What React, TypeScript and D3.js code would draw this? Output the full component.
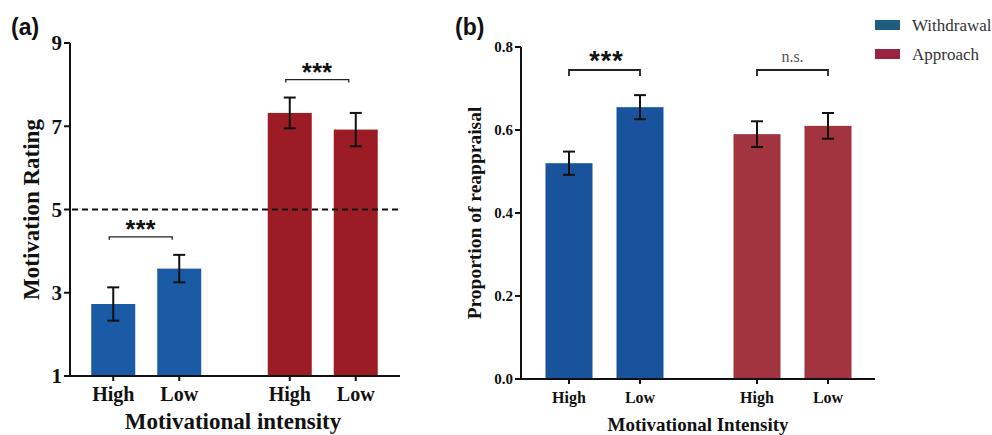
import React from "react";
import * as d3 from "d3";

const groups = ["Withdrawal", "Approach"];
const conditions = ["High", "Low"];

const ratingMeans = [[2.73, 3.58], [7.32, 6.92]];
const ratingErrors = [[0.4, 0.33], [0.37, 0.4]];
const ratingTicks = [1, 3, 5, 7, 9];
const ratingReference = 5;

const reappMeans = [[0.52, 0.655], [0.59, 0.61]];
const reappErrors = [[0.028, 0.029], [0.031, 0.031]];
const reappTicks = [0, 0.2, 0.4, 0.6, 0.8];

const sigA = ["***", "***"];
const sigB = ["***", "n.s."];

const SERIF = "'Liberation Serif', 'Times New Roman', serif";
const SANS = "'Liberation Sans', Arial, sans-serif";

export default function App() {
  // ---------- Panel A ----------
  const yA = d3.scaleLinear().domain([1, 9]).range([376, 43]);
  const gA = d3.scaleBand<string>().domain(groups).range([58, 411]);
  const iA = d3.scalePoint<string>().domain(conditions).range([-33, 33]);
  const bwA = 44;
  const colA = ["#1b5ba6", "#9c1c26"];

  // ---------- Panel B ----------
  const yB = d3.scaleLinear().domain([0, 0.8]).range([379, 47]);
  const gB = d3.scaleBand<string>().domain(groups).range([510.5, 886.5]);
  const iB = d3.scalePoint<string>().domain(conditions).range([-35.5, 35.5]);
  const bwB = 47;
  const colB = ["#19539c", "#a2343f"];

  const cxA = (g: string, c: string) => (gA(g) as number) + gA.bandwidth() / 2 + (iA(c) as number);
  const cxB = (g: string, c: string) => (gB(g) as number) + gB.bandwidth() / 2 + (iB(c) as number);

  return (
    <svg width={992} height={435} style={{ display: "block", position: "absolute", left: 0, top: 0, background: "#fff" }}>
      {/* Panel labels */}
      <text x={11} y={35} fontFamily={SANS} fontWeight="bold" fontSize={23} fill="#111">(a)</text>
      <text x={455} y={35} fontFamily={SANS} fontWeight="bold" fontSize={23} fill="#111">(b)</text>

      {/* ===== Panel A ===== */}
      {groups.map((g, gi) =>
        conditions.map((c, ci) => {
          const cx = cxA(g, c);
          const v = ratingMeans[gi][ci];
          const e = ratingErrors[gi][ci];
          return (
            <g key={`a-${g}-${c}`}>
              <rect x={cx - bwA / 2} y={yA(v)} width={bwA} height={yA(1) - yA(v)} fill={colA[gi]} />
              <line x1={cx} x2={cx} y1={yA(v + e)} y2={yA(v - e)} stroke="#111" strokeWidth={2} />
              <line x1={cx - 6} x2={cx + 6} y1={yA(v + e)} y2={yA(v + e)} stroke="#111" strokeWidth={2} />
              <line x1={cx - 6} x2={cx + 6} y1={yA(v - e)} y2={yA(v - e)} stroke="#111" strokeWidth={2} />
            </g>
          );
        })
      )}
      {/* dashed reference */}
      <line x1={72} x2={400} y1={yA(ratingReference)} y2={yA(ratingReference)} stroke="#111" strokeWidth={2} strokeDasharray="6,4" />
      {/* axes */}
      <line x1={70} x2={70} y1={yA(9)} y2={yA(1)} stroke="#111" strokeWidth={2} />
      <line x1={64} x2={400} y1={yA(1)} y2={yA(1)} stroke="#111" strokeWidth={2} />
      {ratingTicks.map((t) => (
        <g key={`ta-${t}`}>
          <line x1={64} x2={70} y1={yA(t)} y2={yA(t)} stroke="#111" strokeWidth={2} />
          <text x={62} y={yA(t)} dy="0.35em" textAnchor="end" fontFamily={SERIF} fontWeight="bold" fontSize={21} fill="#111">{t}</text>
        </g>
      ))}
      {groups.map((g) =>
        conditions.map((c) => {
          const cx = cxA(g, c);
          return (
            <g key={`xa-${g}-${c}`}>
              <line x1={cx} x2={cx} y1={yA(1)} y2={yA(1) + 5} stroke="#111" strokeWidth={2} />
              <text x={cx} y={401} textAnchor="middle" fontFamily={SERIF} fontWeight="bold" fontSize={20} fill="#111">{c}</text>
            </g>
          );
        })
      )}
      <text x={233} y={429} textAnchor="middle" fontFamily={SERIF} fontWeight="bold" fontSize={23} fill="#111">Motivational intensity</text>
      <text transform={`translate(39,${(yA(9) + yA(1)) / 2}) rotate(-90)`} textAnchor="middle" fontFamily={SERIF} fontWeight="bold" fontSize={23} fill="#111">Motivation Rating</text>
      {/* significance A */}
      {groups.map((g, gi) => {
        const x1 = cxA(g, "High") - 4;
        const x2 = cxA(g, "Low") - 7;
        const top = Math.max(ratingMeans[gi][0] + ratingErrors[gi][0], ratingMeans[gi][1] + ratingErrors[gi][1]);
        const ly = yA(top) - 18;
        return (
          <g key={`sa-${g}`}>
            <path d={`M${x1},${ly + 3}V${ly}H${x2}V${ly + 3}`} fill="none" stroke="#222" strokeWidth={1.3} />
            <text x={(x1 + x2) / 2} y={ly + 1} textAnchor="middle" fontFamily={SANS} fontWeight="bold" fontSize={25} letterSpacing={0.5} fill="#111">{sigA[gi]}</text>
          </g>
        );
      })}

      {/* ===== Panel B ===== */}
      {groups.map((g, gi) =>
        conditions.map((c, ci) => {
          const cx = cxB(g, c);
          const v = reappMeans[gi][ci];
          const e = reappErrors[gi][ci];
          return (
            <g key={`b-${g}-${c}`}>
              <rect x={cx - bwB / 2} y={yB(v)} width={bwB} height={yB(0) - yB(v)} fill={colB[gi]} />
              <line x1={cx} x2={cx} y1={yB(v + e)} y2={yB(v - e)} stroke="#111" strokeWidth={2} />
              <line x1={cx - 6} x2={cx + 6} y1={yB(v + e)} y2={yB(v + e)} stroke="#111" strokeWidth={2} />
              <line x1={cx - 6} x2={cx + 6} y1={yB(v - e)} y2={yB(v - e)} stroke="#111" strokeWidth={2} />
            </g>
          );
        })
      )}
      <line x1={521} x2={521} y1={yB(0.8)} y2={yB(0)} stroke="#111" strokeWidth={2} />
      <line x1={515} x2={875} y1={yB(0)} y2={yB(0)} stroke="#111" strokeWidth={2} />
      {reappTicks.map((t) => (
        <g key={`tb-${t}`}>
          <line x1={515} x2={521} y1={yB(t)} y2={yB(t)} stroke="#111" strokeWidth={2} />
          <text x={513} y={yB(t)} dy="0.35em" textAnchor="end" fontFamily={SERIF} fontWeight="bold" fontSize={15} fill="#111">{t.toFixed(1)}</text>
        </g>
      ))}
      {groups.map((g) =>
        conditions.map((c) => {
          const cx = cxB(g, c);
          return (
            <g key={`xb-${g}-${c}`}>
              <line x1={cx} x2={cx} y1={yB(0)} y2={yB(0) + 5} stroke="#111" strokeWidth={2} />
              <text x={cx} y={403} textAnchor="middle" fontFamily={SERIF} fontWeight="bold" fontSize={16} fill="#111">{c}</text>
            </g>
          );
        })
      )}
      <text x={698} y={431} textAnchor="middle" fontFamily={SERIF} fontWeight="bold" fontSize={19} fill="#111">Motivational Intensity</text>
      <text transform={`translate(481,${(yB(0.8) + yB(0)) / 2}) rotate(-90)`} textAnchor="middle" fontFamily={SERIF} fontWeight="bold" fontSize={19.5} fill="#111">Proportion of reappraisal</text>
      {/* significance B */}
      {groups.map((g, gi) => {
        const x1 = cxB(g, "High");
        const x2 = cxB(g, "Low");
        const ly = yB(0.8) + 23;
        return (
          <g key={`sb-${g}`}>
            <path d={`M${x1},${ly + 6}V${ly}H${x2}V${ly + 6}`} fill="none" stroke="#222" strokeWidth={1.8} />
            {sigB[gi] === "***" ? (
              <text x={(x1 + x2) / 2 + 2} y={ly} textAnchor="middle" fontFamily={SANS} fontWeight="bold" fontSize={27} letterSpacing={1} fill="#111">{sigB[gi]}</text>
            ) : (
              <text x={(x1 + x2) / 2} y={ly - 8} textAnchor="middle" fontFamily={SERIF} fontSize={16} fill="#555">{sigB[gi]}</text>
            )}
          </g>
        );
      })}

      {/* Legend */}
      {groups.map((g, gi) => (
        <g key={`lg-${g}`} transform={`translate(875,${20 + gi * 29})`}>
          <rect x={0} y={0} width={25} height={10} fill={gi === 0 ? "#1d5e7e" : "#9a2342"} />
          <text x={37} y={5} dy="0.35em" fontFamily={SERIF} fontSize={17} fill="#333">{g}</text>
        </g>
      ))}
    </svg>
  );
}
